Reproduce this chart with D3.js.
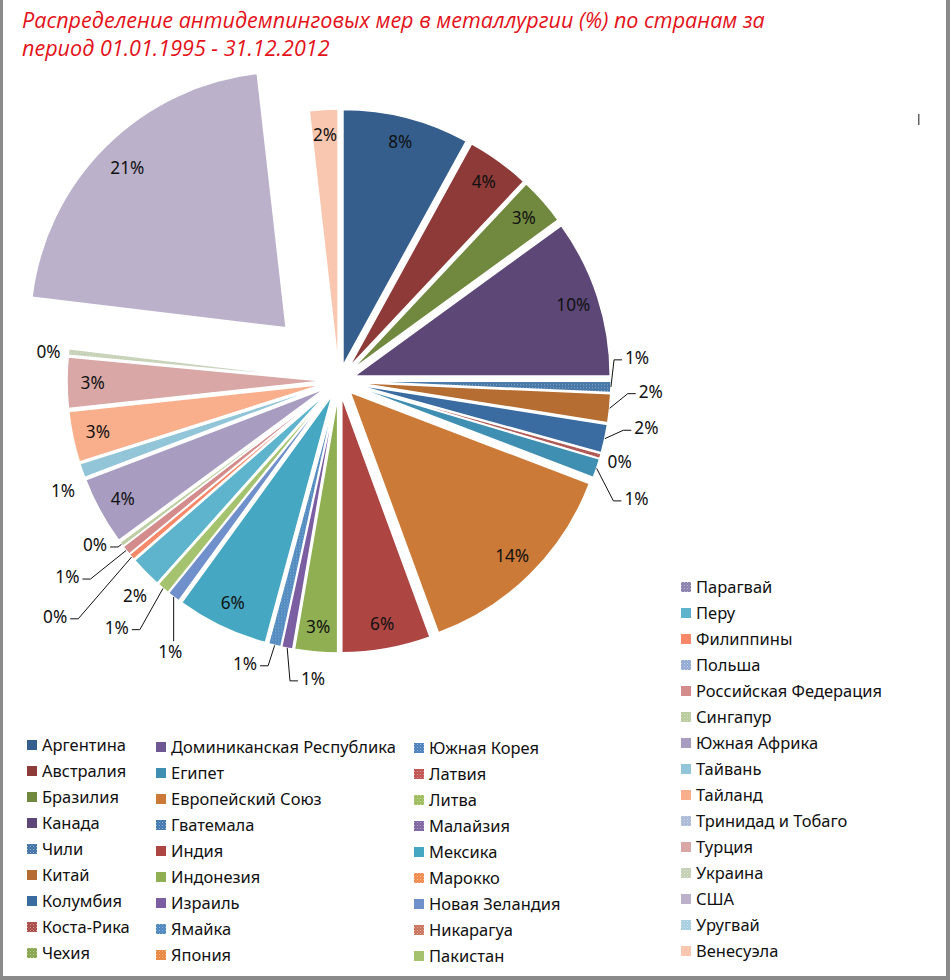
<!DOCTYPE html>
<html><head><meta charset="utf-8">
<script src="https://cdn.jsdelivr.net/npm/d3@7"></script>
<style>body{margin:0;background:#fff}svg{display:block}</style>
</head><body>
<svg id="c" width="950" height="980"></svg>
<script>
// ---------------- DATA ----------------
const titleLines = [
  "Распределение антидемпинговых мер в металлургии (%) по странам за",
  "период 01.01.1995 - 31.12.2012"
];
const categories = [
  "Аргентина","Австралия","Бразилия","Канада","Чили","Китай","Колумбия","Коста-Рика","Чехия",
  "Доминиканская Республика","Египет","Европейский Союз","Гватемала","Индия","Индонезия","Израиль","Ямайка","Япония",
  "Южная Корея","Латвия","Литва","Малайзия","Мексика","Марокко","Новая Зеландия","Никарагуа","Пакистан",
  "Парагвай","Перу","Филиппины","Польша","Российская Федерация","Сингапур","Южная Африка","Тайвань","Тайланд",
  "Тринидад и Тобаго","Турция","Украина","США","Уругвай","Венесуэла"
];
// share of measures, % (labels are rounded)
const values = [
  8.0, 4.0, 3.0, 10.0, 0.7, 1.8, 1.8, 0.3, 0,
  0, 1.2, 13.6, 0, 5.6, 2.7, 0.7, 0.8, 0,
  0, 0, 0, 0, 5.8, 0, 0.8, 0, 0.8,
  0, 2.0, 0.4, 0, 0.6, 0.3, 4.3, 0.9, 3.2,
  0, 3.2, 0.4, 21.3, 0, 1.8
];
const colors = [
  "#355e8d","#8e3a38","#71893f","#5c4776","#3f72a4","#b66d31","#3b6ca1","#a94a47","#86a44a",
  "#6e5893","#3f8fb3","#cc7a37","#3f77ae","#ad4643","#8faf52","#7b5ea2","#4a86bd","#e8843c",
  "#4a7ebb","#c0504d","#9bbb59","#7c62a0","#46a7c2","#f08a4b","#6f90cb","#c9725c","#a5c36f",
  "#8a80ae","#5db4cc","#f7896a","#92a9d2","#d38c8b","#b8ca9b","#a99cc1","#92c5d8","#f9af8c",
  "#a9b9d5","#d8a7a6","#c3cfb3","#bbb1cb","#a5cddd","#f9c7b0"
];
const patterned = ["Чили","Коста-Рика","Чехия","Гватемала","Ямайка","Япония","Южная Корея","Латвия","Литва",
  "Малайзия","Марокко","Никарагуа","Парагвай","Польша","Сингапур","Тринидад и Тобаго","Украина","Уругвай"];

// ---------------- LAYOUT ----------------
const CX = 339, CY = 381, R = 256, EXPLODE = 16;
const explodeBig = { "США": 75 };
const insideFrac = { default: 0.9, "США": 0.88 };
const extraInside = ["Венесуэла"];
// outside label hints: [angle shift (deg), radius from centre, leader line?]
const labelHints = {
  "Чили": [-5.7, 299, true], "Китай": [-3.8, 312, true], "Колумбия": [-3.5, 311, true],
  "Коста-Рика": [0, 292, false], "Египет": [2.9, 320, true],
  "Израиль": [-6.0, 299, true], "Ямайка": [4.7, 298, true], "Новая Зеландия": [-5.5, 319, true],
  "Пакистан": [1.7, 332, true], "Перу": [-1.8, 296, false], "Филиппины": [0.6, 369, true],
  "Российская Федерация": [2.7, 335, true], "Сингапур": [3.0, 294, true],
  "Тайвань": [-2.4, 297, false], "Украина": [-0.4, 292, false]
};
const legendCols = [
  { x: 27, y: 745, from: 0, to: 9 },
  { x: 156, y: 747, from: 9, to: 18 },
  { x: 414, y: 748, from: 18, to: 27 },
  { x: 681, y: 587, from: 27, to: 42 }
];
const ROW = 26;

// ---------------- DRAW ----------------
const svg = d3.select("#c");
const FONT = "'Noto Sans', 'DejaVu Sans', sans-serif";
svg.append("rect").attr("width", 950).attr("height", 980).attr("fill", "#fff");

function fit(family, style, sample, target, base) {
  const t = svg.append("text").attr("font-family", family).attr("font-style", style)
    .attr("font-size", base).text(sample);
  const w = t.node().getComputedTextLength(); t.remove();
  return base * target / w;
}
const titleFont = "'Open Sans', 'Noto Sans', sans-serif";
const titleSize = fit(titleFont, "italic", titleLines[0], 743, 20);
const labelSize = fit(FONT, "normal", "14%", 34, 16);
const legendSize = fit(FONT, "normal", "Доминиканская Республика", 225, 16);

// patterns
const defs = svg.append("defs");
const data = categories.map((n, i) => ({ name: n, v: values[i], color: colors[i], pat: patterned.includes(n), i }));
data.forEach(d => {
  if (!d.pat) return;
  const p = defs.append("pattern").attr("id", "p" + d.i).attr("patternUnits", "userSpaceOnUse")
    .attr("width", 3).attr("height", 3);
  p.append("rect").attr("width", 3).attr("height", 3).attr("fill", d.color);
  p.append("rect").attr("x", 0).attr("y", 0).attr("width", 1).attr("height", 1).attr("fill", "#fff").attr("opacity", 0.45);
  p.append("rect").attr("x", 1.5).attr("y", 1.5).attr("width", 1).attr("height", 1).attr("fill", "#fff").attr("opacity", 0.3);
});
const fillOf = d => d.pat ? `url(#p${d.i})` : d.color;

// title
svg.append("g").selectAll("text").data(titleLines).join("text")
  .attr("x", 22).attr("y", (d, i) => 28 + i * 28)
  .attr("font-family", titleFont).attr("font-style", "italic")
  .attr("font-size", titleSize).attr("fill", "#e3131a").text(d => d);

// pie
const total = d3.sum(values);
const pie = d3.pie().sort(null).value(d => d.v).startAngle(0).endAngle(2 * Math.PI);
const arcs = pie(data).filter(a => a.data.v > 0);
const arc = d3.arc().innerRadius(0).outerRadius(R);
const g = svg.append("g").attr("transform", `translate(${CX},${CY})`);
const expl = n => explodeBig[n] !== undefined ? explodeBig[n] : EXPLODE;
const mid = a => (a.startAngle + a.endAngle) / 2;

g.selectAll("path").data(arcs).join("path")
  .attr("d", arc)
  .attr("transform", a => { const m = mid(a), e = expl(a.data.name); return `translate(${e * Math.sin(m)},${-e * Math.cos(m)})`; })
  .attr("fill", a => fillOf(a.data))
  .attr("stroke", "#fff").attr("stroke-width", 1.5).attr("stroke-linejoin", "round");

// labels
const lg = g.append("g");
arcs.forEach(a => {
  const n = a.data.name, m = mid(a), e = expl(n);
  const txt = Math.round(a.data.v / total * 100) + "%";
  const inside = a.data.v >= 2.5 || extraInside.includes(n);
  let x, y, hint = null;
  if (inside) {
    const r = e + (insideFrac[n] || insideFrac.default) * R;
    x = r * Math.sin(m); y = -r * Math.cos(m);
  } else {
    hint = labelHints[n] || [0, R + e + 24, false];
    const ang = m + hint[0] * Math.PI / 180;
    x = hint[1] * Math.sin(ang); y = -hint[1] * Math.cos(ang);
  }
  const t = lg.append("text").attr("x", x).attr("y", y).attr("dy", "0.35em")
    .attr("text-anchor", "middle").attr("font-family", FONT).attr("font-size", labelSize)
    .attr("fill", "#111").text(txt);
  if (hint && hint[2]) {
    const w = t.node().getComputedTextLength(), h = labelSize * 0.75;
    const px = (R + e) * Math.sin(m), py = -(R + e) * Math.cos(m);
    const bx0 = x - w / 2, bx1 = x + w / 2, by0 = y - h / 2;
    let pts;
    if (px < bx0 - 4) pts = [[px, py], [bx0 - 11, y + 2], [bx0 - 3, y + 2]];
    else if (px > bx1 + 4) pts = [[px, py], [bx1 + 11, y + 2], [bx1 + 3, y + 2]];
    else pts = [[px, py], [px, by0 - 4]];
    lg.append("path").attr("d", d3.line()(pts)).attr("fill", "none")
      .attr("stroke", "#111").attr("stroke-width", 1);
  }
});

// legend
const leg = svg.append("g");
legendCols.forEach(c => {
  data.slice(c.from, c.to).forEach((d, k) => {
    const yy = c.y + k * ROW;
    leg.append("rect").attr("x", c.x).attr("y", yy - 5).attr("width", 10).attr("height", 10)
      .attr("fill", fillOf(d));
    leg.append("text").attr("x", c.x + 15).attr("y", yy).attr("dy", "0.35em")
      .attr("font-family", FONT).attr("font-size", legendSize).attr("fill", "#111").text(d.name);
  });
});

// frame
svg.append("rect").attr("x", 0).attr("y", 0).attr("width", 3).attr("height", 980).attr("fill", "#8a8a8a");
svg.append("rect").attr("x", 946).attr("y", 0).attr("width", 4).attr("height", 980).attr("fill", "#8a8a8a");
svg.append("rect").attr("x", 0).attr("y", 976).attr("width", 950).attr("height", 4).attr("fill", "#8a8a8a");
svg.append("rect").attr("x", 918).attr("y", 114).attr("width", 1.5).attr("height", 11).attr("fill", "#666");
</script>
</body></html>
